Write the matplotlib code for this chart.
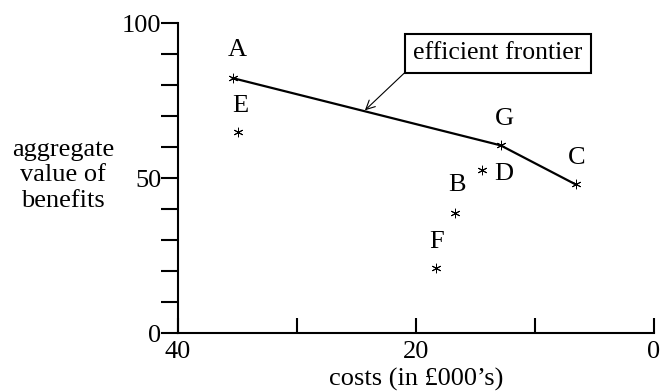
import matplotlib.pyplot as plt

plt.rcParams['font.family'] = ['Liberation Serif', 'DejaVu Serif']
plt.rcParams['font.size'] = 19

# option data: costs (in £000's) and aggregate benefit value
labels = ['A', 'E', 'G', 'D', 'C', 'B', 'F']
costs = [35.4, 35.0, 12.9, 14.5, 6.6, 16.7, 18.3]
benefits = [82.3, 64.8, 60.6, 52.6, 48.0, 38.7, 21.0]

# options on the efficient frontier
frontier = ['A', 'G', 'C']

fig = plt.figure(figsize=(6.62, 3.92), dpi=100)
ax = fig.add_axes([0.269, 0.1505, 0.719, 0.79])

fx = [costs[labels.index(k)] for k in frontier]
fy = [benefits[labels.index(k)] for k in frontier]
ax.plot(fx, fy, color='black', lw=1.6, zorder=2)

ax.scatter(costs, benefits, marker=(6, 2, 0), s=40, color='black', lw=0.7, zorder=3)

# label offsets in points (dx, dy)
offsets = {'A': (3, 20), 'E': (2, 19), 'G': (3, 19), 'D': (16, -3),
           'C': (1, 19), 'B': (1, 20), 'F': (0, 19)}
for lab, x, y in zip(labels, costs, benefits):
    dx, dy = offsets[lab]
    ax.annotate(lab, (x, y), xytext=(dx, dy), textcoords='offset points',
                ha='center', va='center', fontsize=19)

ax.annotate('efficient frontier', xy=(24.3, 71.9), xytext=(13.1, 90.3),
            ha='center', va='center', fontsize=18.5,
            bbox=dict(boxstyle='square,pad=0.33', fc='white', ec='black', lw=1.5),
            arrowprops=dict(arrowstyle='->', color='black', lw=0.8,
                            relpos=(0, 0), shrinkA=0, shrinkB=0, mutation_scale=16))

ax.set_xlim(40, 0)
ax.set_ylim(0, 100)
ax.set_xticks([40, 30, 20, 10, 0])
ax.set_xticklabels(['40', '', '20', '', '0'])
ax.set_yticks(range(0, 101, 10))
ax.set_yticklabels(['0', '', '', '', '', '50', '', '', '', '', '100'])

for s in ['top', 'right']:
    ax.spines[s].set_visible(False)
for s in ['left', 'bottom']:
    ax.spines[s].set_linewidth(1.5)

ax.tick_params(axis='y', direction='out', length=12, width=1.5, pad=0, labelsize=19)
ax.tick_params(axis='x', direction='in', length=11, width=1.5, pad=6, labelsize=19)

ax.set_xlabel('costs (in £000’s)', fontsize=19, labelpad=3)
fig.text(0.095, 0.553, 'aggregate\nvalue of\nbenefits', ha='center', va='center',
         fontsize=19)

fig.savefig('out.png', dpi=100)
